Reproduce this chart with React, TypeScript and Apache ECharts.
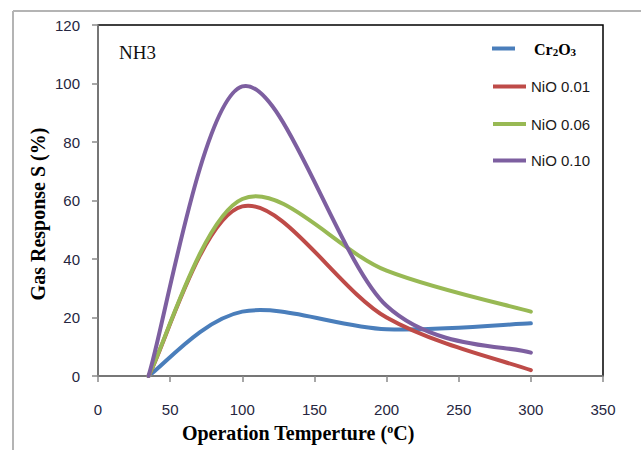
import React, { useEffect, useRef } from "react";
import * as echarts from "echarts";

const temps = [35, 100, 200, 300];
const cr2o3 = [0, 22, 16, 18];
const nio001 = [0, 58, 20, 2];
const nio006 = [0, 60.5, 36, 22];
const nio010 = [0, 99, 24, 8];

const seriesNames = ["Cr2O3", "NiO 0.01", "NiO 0.06", "NiO 0.10"];
const seriesColors = ["#4A7EBB", "#BE4B48", "#98B954", "#7D5FA0"];
const xTicks = { min: 0, max: 350, interval: 50 };
const yTicks = { min: 0, max: 120, interval: 20 };

const pairs = (ys: number[]) => temps.map((t, i) => [t, ys[i]]);

// Excel-like Catmull-Rom smoothing in pixel space
function smoothPath(pts: number[][]): string {
  let d = `M${pts[0][0]},${pts[0][1]}`;
  for (let i = 0; i < pts.length - 1; i++) {
    const p0 = pts[Math.max(0, i - 1)];
    const p1 = pts[i];
    const p2 = pts[i + 1];
    const p3 = pts[Math.min(pts.length - 1, i + 2)];
    const c1x = p1[0] + (p2[0] - p0[0]) / 6;
    const c1y = p1[1] + (p2[1] - p0[1]) / 6;
    const c2x = p2[0] - (p3[0] - p1[0]) / 6;
    const c2y = p2[1] - (p3[1] - p1[1]) / 6;
    d += ` C${c1x},${c1y} ${c2x},${c2y} ${p2[0]},${p2[1]}`;
  }
  return d;
}

export default function App() {
  const ref = useRef<HTMLDivElement>(null);
  useEffect(() => {
    if (!ref.current) return;
    const chart = echarts.init(ref.current, undefined, { renderer: "svg" });
    const allData = [cr2o3, nio001, nio006, nio010];
    const legendTops = [50, 87.5, 125, 161.5];
    const legendCommon = {
      orient: "vertical",
      padding: 0,
      itemHeight: 4,
      icon: "rect",
      selectedMode: false,
      textStyle: {
        fontFamily: "Liberation Sans",
        fontSize: 15,
        color: "#1a1a1a",
      },
    };
    const legends: any[] = seriesNames.map((name, i) => {
      if (i === 0) {
        return {
          ...legendCommon,
          left: 492,
          top: legendTops[i] - 9,
          itemWidth: 23,
          data: [name],
          formatter: () => "{sp|}{a|Cr}{s|2}{a|O}{s|3}",
          textStyle: {
            ...legendCommon.textStyle,
            rich: {
              sp: { width: 14, fontSize: 15 },
              a: {
                fontFamily: "Liberation Serif",
                fontWeight: "bold",
                fontSize: 16,
                color: "#000",
                lineHeight: 18,
                verticalAlign: "bottom",
              },
              s: {
                fontFamily: "Liberation Serif",
                fontWeight: "bold",
                fontSize: 11,
                color: "#000",
                lineHeight: 10,
                verticalAlign: "bottom",
              },
            },
          },
        };
      }
      return {
        ...legendCommon,
        left: 493,
        top: legendTops[i] - 8.5,
        itemWidth: 33,
        data: [name],
      };
    });

    chart.setOption({
      animation: false,
      backgroundColor: "#fff",
      grid: {
        left: 98,
        right: 38,
        top: 25,
        bottom: 74,
        show: true,
        borderColor: "#000",
        borderWidth: 1.5,
        backgroundColor: "transparent",
      },
      legend: legends,
      xAxis: {
        type: "value",
        min: xTicks.min,
        max: xTicks.max,
        interval: xTicks.interval,
        z: 3,
        axisLine: { show: true, lineStyle: { color: "#8a8a8a", width: 1.5 } },
        axisTick: { show: true, length: 6, lineStyle: { color: "#8a8a8a", width: 1.5 } },
        splitLine: { show: false },
        axisLabel: {
          margin: 26,
          fontFamily: "Liberation Sans",
          fontSize: 15,
          color: "#262640",
        },
      },
      yAxis: {
        type: "value",
        min: yTicks.min,
        max: yTicks.max,
        interval: yTicks.interval,
        z: 3,
        axisLine: { show: true, lineStyle: { color: "#8a8a8a", width: 1.5 } },
        axisTick: { show: true, length: 6, lineStyle: { color: "#8a8a8a", width: 1.5 } },
        splitLine: { show: false },
        axisLabel: {
          margin: 18,
          fontFamily: "Liberation Sans",
          fontSize: 15,
          color: "#262640",
        },
      },
      series: seriesNames.map((name, i) => {
        const data = pairs(allData[i]);
        return {
          name,
          type: "custom",
          data,
          encode: { x: 0, y: 1 },
          itemStyle: { color: seriesColors[i] },
          z: 2 + i,
          renderItem: (params: any, api: any) => {
            if (params.dataIndex !== 0) return null;
            const pts = data.map((d) => api.coord(d));
            return {
              type: "path",
              shape: { pathData: smoothPath(pts) },
              style: {
                stroke: seriesColors[i],
                lineWidth: 4,
                fill: "none",
                lineCap: "round",
                lineJoin: "round",
              },
            };
          },
        };
      }),
      graphic: [
        {
          type: "line",
          shape: { x1: 13, y1: 11, x2: 641, y2: 11 },
          style: { stroke: "#b4b4b4", lineWidth: 2 },
        },
        {
          type: "line",
          shape: { x1: 13, y1: 11, x2: 13, y2: 450 },
          style: { stroke: "#b4b4b4", lineWidth: 2 },
        },
        {
          type: "text",
          x: 119,
          y: 52,
          style: {
            text: "NH3",
            font: "19px 'Liberation Serif'",
            fill: "#111",
            verticalAlign: "middle",
          },
        },
        {
          type: "text",
          x: 298,
          y: 434,
          style: {
            text: "{a|Operation Temperture (}{s|o}{a|C)}",
            align: "center",
            verticalAlign: "middle",
            rich: {
              a: {
                fontFamily: "Liberation Serif",
                fontWeight: "bold",
                fontSize: 20,
                fill: "#000",
                lineHeight: 22,
                verticalAlign: "top",
              },
              s: {
                fontFamily: "Liberation Serif",
                fontWeight: "bold",
                fontSize: 12,
                fill: "#000",
                lineHeight: 14,
                verticalAlign: "top",
              },
            },
          },
        },
        {
          type: "text",
          x: 38,
          y: 214,
          rotation: Math.PI / 2,
          style: {
            text: "Gas Response S (%)",
            font: "bold 20px 'Liberation Serif'",
            fill: "#000",
            align: "center",
            verticalAlign: "middle",
          },
        },
      ],
    });
    return () => chart.dispose();
  }, []);
  return (
    <div
      ref={ref}
      style={{ position: "absolute", left: 0, top: 0, width: 641, height: 450 }}
    />
  );
}
